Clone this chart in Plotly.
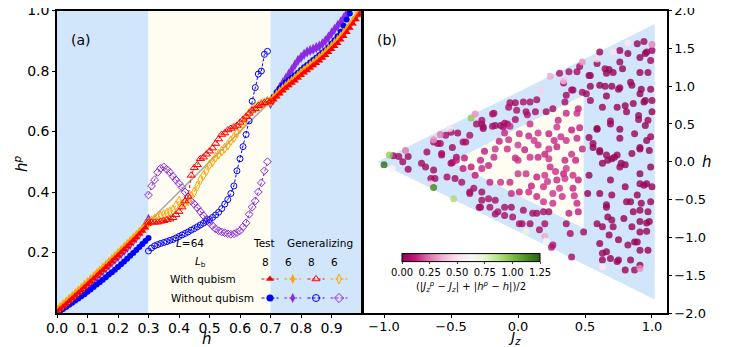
import plotly.graph_objects as go

# ---------------- data: panel (a) ----------------
H_LO = [0.00, 0.01, 0.02, 0.03, 0.04, 0.05, 0.06, 0.07, 0.08, 0.09, 0.10, 0.11, 0.12, 0.13, 0.14, 0.15,
        0.16, 0.17, 0.18, 0.19, 0.20, 0.21, 0.22, 0.23, 0.24, 0.25, 0.26, 0.27, 0.28, 0.29, 0.30]
H_HI = [0.70, 0.71, 0.72, 0.73, 0.74, 0.75, 0.76, 0.77, 0.78, 0.79, 0.80, 0.81, 0.82, 0.83, 0.84, 0.85,
        0.86, 0.87, 0.88, 0.89, 0.90, 0.91, 0.92, 0.93, 0.94, 0.95, 0.96, 0.97, 0.98, 0.99, 1.00]
H_MID = [0.30, 0.31, 0.32, 0.33, 0.34, 0.35, 0.36, 0.37, 0.38, 0.39, 0.40, 0.41, 0.42, 0.43, 0.44, 0.45,
         0.46, 0.47, 0.48, 0.49, 0.50, 0.51, 0.52, 0.53, 0.54, 0.55, 0.56, 0.57, 0.58, 0.59, 0.60, 0.61,
         0.62, 0.63, 0.64, 0.65, 0.66, 0.67, 0.68, 0.69, 0.70]

# Test, L_b = 8, with qubism (red filled triangles)
red_lo = [0.004, 0.012, 0.021, 0.030, 0.039, 0.048, 0.057, 0.066, 0.075, 0.085, 0.094, 0.103, 0.113, 0.122,
          0.132, 0.141, 0.151, 0.160, 0.170, 0.180, 0.190, 0.200, 0.210, 0.220, 0.230, 0.240, 0.250, 0.261,
          0.271, 0.282, 0.293]
red_hi = [0.695, 0.705, 0.715, 0.725, 0.735, 0.744, 0.752, 0.760, 0.768, 0.777, 0.786, 0.794, 0.802, 0.810,
          0.818, 0.826, 0.834, 0.843, 0.852, 0.862, 0.872, 0.882, 0.892, 0.903, 0.915, 0.928, 0.942, 0.956,
          0.970, 0.985, 0.998]
# Test, L_b = 6, with qubism (orange filled diamonds)
orange_lo = [0.010, 0.019, 0.028, 0.037, 0.046, 0.055, 0.064, 0.073, 0.082, 0.092, 0.101, 0.111, 0.120, 0.130,
             0.139, 0.149, 0.158, 0.168, 0.177, 0.187, 0.197, 0.207, 0.217, 0.227, 0.237, 0.247, 0.257, 0.267,
             0.277, 0.288, 0.298]
orange_hi = [0.700, 0.711, 0.721, 0.731, 0.741, 0.750, 0.759, 0.767, 0.776, 0.785, 0.794, 0.802, 0.810, 0.818,
             0.826, 0.834, 0.843, 0.852, 0.861, 0.871, 0.881, 0.891, 0.902, 0.913, 0.925, 0.938, 0.951, 0.965,
             0.979, 0.993, 1.005]
# Test, L_b = 8, without qubism (blue filled circles)
blue_lo = [0.000, 0.006, 0.013, 0.020, 0.027, 0.034, 0.041, 0.048, 0.055, 0.062, 0.070, 0.078, 0.086, 0.094,
           0.102, 0.110, 0.118, 0.127, 0.135, 0.143, 0.152, 0.161, 0.170, 0.179, 0.189, 0.198, 0.208, 0.218,
           0.228, 0.238, 0.248]
blue_hi = [0.700, 0.715, 0.730, 0.742, 0.752, 0.762, 0.770, 0.778, 0.786, 0.794, 0.803, 0.812, 0.820, 0.828,
           0.836, 0.844, 0.852, 0.860, 0.868, 0.878, 0.890, 0.902, 0.915, 0.930, 0.950, 0.970, 0.990, 1.010,
           1.030, 1.050, 1.070]
# Test, L_b = 6, without qubism (purple filled diamonds)
purple_lo = [0.006, 0.014, 0.022, 0.030, 0.039, 0.047, 0.056, 0.065, 0.074, 0.083, 0.092, 0.101, 0.111, 0.120,
             0.130, 0.140, 0.149, 0.158, 0.168, 0.177, 0.186, 0.196, 0.206, 0.216, 0.227, 0.238, 0.250, 0.262,
             0.276, 0.292, 0.310]
purple_hi = [0.692, 0.710, 0.728, 0.745, 0.760, 0.775, 0.790, 0.805, 0.820, 0.835, 0.845, 0.855, 0.863, 0.868,
             0.872, 0.877, 0.882, 0.890, 0.900, 0.912, 0.925, 0.938, 0.950, 0.962, 0.975, 0.990, 1.002, 1.015,
             1.030, 1.045, 1.060]

# Generalizing (middle region)
red_mid = [0.300, 0.300, 0.300, 0.300, 0.303, 0.305, 0.308, 0.310, 0.315, 0.325, 0.335, 0.350, 0.370, 0.385,
           0.455, 0.480, 0.490, 0.510, 0.515, 0.525, 0.535, 0.545, 0.560, 0.575, 0.590, 0.595, 0.605, 0.610,
           0.615, 0.620, 0.630, 0.640, 0.650, 0.660, 0.670, 0.675, 0.685, 0.690, 0.695, 0.700, 0.700]
orange_mid = [0.300, 0.305, 0.310, 0.315, 0.320, 0.325, 0.330, 0.335, 0.340, 0.355, 0.370, 0.360, 0.365, 0.370,
              0.385, 0.400, 0.420, 0.440, 0.455, 0.470, 0.490, 0.500, 0.515, 0.525, 0.535, 0.545, 0.555, 0.570,
              0.580, 0.595, 0.610, 0.625, 0.645, 0.660, 0.670, 0.680, 0.685, 0.690, 0.695, 0.700, 0.700]
blue_mid = [0.205, 0.215, 0.222, 0.226, 0.230, 0.233, 0.236, 0.240, 0.243, 0.248, 0.253, 0.258, 0.263, 0.268,
            0.274, 0.279, 0.285, 0.291, 0.297, 0.303, 0.309, 0.316, 0.324, 0.333, 0.345, 0.360, 0.375, 0.395,
            0.420, 0.470, 0.510, 0.550, 0.590, 0.635, 0.700, 0.745, 0.790, 0.800, 0.855, 0.865, None]
purple_mid = [0.390, 0.420, 0.440, 0.465, 0.478, 0.483, 0.475, 0.465, 0.452, 0.440, 0.428, 0.415, 0.400, 0.385,
              0.370, 0.360, 0.348, 0.335, 0.322, 0.310, 0.298, 0.288, 0.278, 0.272, 0.268, 0.265, 0.262, 0.260,
              0.262, 0.266, 0.272, 0.285, 0.298, 0.326, 0.350, 0.370, 0.400, 0.430, 0.470, 0.500, None]

DIAG = [0.0, 1.0]
REGIONS_A = [0.0, 0.3, 0.7, 1.0]

# ---------------- data: panel (b)  (J_z, h, error) ----------------
pts_inner = [
    (0.01, 0.37, 0.15), (0.08, 0.34, 0.14), (0.15, 0.38, 0.16), (0.23, 0.37, 0.13), (-0.06, 0.47, 0.14),
    (-0.07, 0.29, 0.15), (-0.14, 0.27, 0.13), (-0.17, 0.17, 0.16), (-0.25, 0.14, 0.12), (-0.18, 0.06, 0.14),
    (-0.08, 0.17, 0.15), (0.00, 0.22, 0.17), (0.05, 0.16, 0.13), (0.09, 0.06, 0.15), (0.15, 0.06, 0.14),
    (0.23, 0.04, 0.16), (0.29, 0.20, 0.13), (0.36, 0.28, 0.15), (0.44, 0.31, 0.14), (0.40, 0.42, 0.12),
    (0.45, 0.70, 0.13), (0.44, 0.64, 0.15), (0.36, 0.64, 0.14), (0.29, 0.46, 0.16), (-0.28, 0.02, 0.13),
    (-0.35, -0.07, 0.11), (-0.27, -0.09, 0.14), (-0.32, -0.18, 0.12), (-0.41, -0.09, 0.11), (-0.46, 0.02, 0.12),
    (-0.21, -0.27, 0.13), (-0.13, -0.27, 0.15), (-0.06, -0.27, 0.14), (0.00, -0.16, 0.16), (0.06, -0.16, 0.15),
    (0.14, -0.20, 0.13), (0.20, -0.18, 0.16), (0.24, -0.07, 0.14), (0.28, -0.13, 0.15), (0.34, -0.16, 0.13),
    (0.35, -0.22, 0.16), (0.29, -0.24, 0.14), (0.41, -0.18, 0.15), (0.45, -0.24, 0.13), (0.41, -0.35, 0.14),
    (0.31, -0.35, 0.16), (0.19, -0.33, 0.15), (0.10, -0.32, 0.13), (0.08, -0.40, 0.15), (0.14, -0.46, 0.14),
    (0.26, -0.42, 0.16), (0.33, -0.46, 0.15), (0.38, -0.68, 0.13), (0.45, -0.66, 0.12), (0.44, -0.55, 0.14),
    (0.26, -0.55, 0.15), (0.19, -0.53, 0.16), (0.01, -0.40, 0.13), (-0.05, -0.42, 0.14), (0.15, 0.22, 0.15),
    (0.23, 0.17, 0.16), (0.35, 0.02, 0.14), (0.43, 0.02, 0.13), (0.48, 0.17, 0.14), (0.09, 0.50, 0.15),
    (0.36, -0.09, 0.16), (0.30, 0.55, 0.14), (0.40, 0.10, 0.15), (0.46, 0.45, 0.13), (0.12, 0.28, 0.16),
    (-0.02, 0.05, 0.14), (0.20, 0.10, 0.13), (0.32, 0.33, 0.15), (-0.10, 0.38, 0.14), (-0.40, 0.05, 0.12),
    (0.00, 0.02, 0.15), (0.27, 0.28, 0.14), (0.42, -0.45, 0.15), (0.22, -0.26, 0.16), (-0.22, -0.05, 0.13),
]
pts_band = [
    (-0.06, 0.78, 0.06), (-0.02, 0.78, 0.05), (0.04, 0.79, 0.07), (0.14, 0.82, 0.06), (0.06, 0.66, 0.05),
    (0.07, 0.62, 0.07), (0.13, 0.66, 0.06), (0.21, 0.66, 0.05), (0.26, 0.70, 0.06), (-0.01, 0.68, 0.07),
    (-0.10, 0.51, 0.06), (-0.13, 0.48, 0.05), (-0.17, 0.48, 0.06), (-0.18, 0.64, 0.07), (-0.26, 0.44, 0.06),
    (-0.27, 0.50, 0.05), (-0.31, 0.50, 0.06), (-0.36, 0.35, 0.07), (-0.45, 0.38, 0.05), (-0.41, 0.26, 0.06),
    (-0.50, 0.39, 0.06), (-0.54, 0.35, 0.07), (-0.49, 0.19, 0.05), (-0.02, 0.56, 0.06), (-0.07, 0.72, 0.07),
    (0.36, 0.88, 0.05), (0.35, 0.79, 0.06), (0.41, 0.95, 0.05), (0.48, 0.92, 0.06), (0.34, 1.04, 0.07),
    (0.46, 1.26, 0.05), (0.44, 1.19, 0.06), (0.38, 1.19, 0.07), (0.54, 1.14, 0.04), (0.51, 0.90, 0.05),
    (0.54, 0.81, 0.04), (0.31, 1.17, 0.07), (0.40, 0.95, 0.06), (0.09, 0.79, 0.06), (-0.19, 0.63, 0.07),
    (-0.27, 0.55, 0.06), (-0.26, 0.46, 0.05), (-0.19, 0.47, 0.06), (-0.11, 0.46, 0.07), (-0.08, 0.50, 0.06),
    (-0.58, 0.24, 0.06), (-0.63, 0.26, 0.07), (-0.39, 0.26, 0.06), (-0.46, 0.06, 0.06), (-0.50, -0.02, 0.05),
    (-0.57, 0.09, 0.06), (-0.68, 0.13, 0.05), (-0.72, -0.02, 0.05), (-0.82, 0.07, 0.04), (-0.89, 0.07, 0.05),
    (-0.93, 0.08, 0.04), (-0.86, 0.00, 0.05), (-0.82, -0.10, 0.04), (-0.69, -0.07, 0.05), (-0.60, 0.24, 0.06),
    (-0.57, 0.11, 0.06), (-0.49, -0.01, 0.06), (-0.63, -0.11, 0.05), (-0.62, -0.22, 0.05), (-0.53, -0.20, 0.06),
    (-0.47, -0.22, 0.05), (-0.42, -0.27, 0.06), (-0.36, -0.40, 0.07), (-0.33, -0.35, 0.06), (-0.27, -0.40, 0.05),
    (-0.27, -0.51, 0.06), (-0.22, -0.49, 0.07), (-0.17, -0.51, 0.06), (-0.28, -0.60, 0.05), (-0.21, -0.60, 0.06),
    (-0.15, -0.66, 0.07), (-0.10, -0.60, 0.06), (-0.05, -0.60, 0.05), (-0.10, -0.71, 0.06), (-0.04, -0.73, 0.07),
    (0.03, -0.82, 0.06), (0.09, -0.82, 0.05), (0.14, -0.68, 0.06), (0.19, -0.66, 0.07), (0.20, -0.82, 0.06),
    (0.26, -1.10, 0.08), (0.16, -0.90, 0.06), (0.36, -0.82, 0.05), (0.49, -0.93, 0.05), (0.40, -1.26, 0.06),
    (-0.65, -0.22, 0.05), (-0.36, -0.42, 0.06), (-0.29, -0.60, 0.05), (0.04, -0.64, 0.06), (0.11, -0.68, 0.06),
    (0.23, -0.66, 0.05), (-0.17, -0.69, 0.06), (0.01, -0.82, 0.07), (0.25, -1.13, 0.09), (0.39, -0.95, 0.06),
]
pts_outer = [
    (0.61, 1.45, 0.03), (0.76, 1.47, 0.03), (0.82, 1.43, 0.02), (0.89, 1.56, 0.03), (0.94, 1.59, 0.04),
    (0.96, 1.45, 0.03), (1.00, 1.47, 0.04), (0.59, 1.30, 0.03), (0.68, 1.22, 0.02), (0.76, 1.32, 0.03),
    (0.78, 1.23, 0.02), (0.84, 1.05, 0.03), (0.91, 1.18, 0.02), (0.97, 1.18, 0.03), (0.99, 1.34, 0.04),
    (0.91, 1.38, 0.03), (0.95, 1.43, 0.02), (0.53, 1.14, 0.03), (0.54, 1.00, 0.02), (0.65, 1.00, 0.03),
    (0.70, 1.00, 0.02), (0.76, 0.98, 0.03), (0.91, 0.90, 0.02), (1.00, 0.81, 0.03), (0.94, 0.79, 0.02),
    (0.63, 0.72, 0.03), (0.80, 0.74, 0.02), (0.81, 0.66, 0.03), (0.90, 0.61, 0.02), (0.97, 0.55, 0.03),
    (1.00, 0.66, 0.02), (0.69, 0.50, 0.03), (0.59, 0.44, 0.02), (0.56, 0.24, 0.03), (0.61, 0.15, 0.02),
    (0.66, 0.09, 0.03), (0.70, 0.04, 0.02), (0.74, 0.09, 0.03), (0.76, -0.07, 0.02), (0.77, -0.02, 0.03),
    (0.76, 0.31, 0.02), (0.85, 0.11, 0.03), (0.91, 0.17, 0.02), (0.96, 0.28, 0.03), (0.91, -0.16, 0.02),
    (0.91, -0.29, 0.03), (0.96, -0.29, 0.02), (1.00, -0.33, 0.03), (0.99, -0.07, 0.02), (0.69, -0.24, 0.03),
    (0.52, -0.42, 0.02), (0.53, -0.18, 0.03), (0.63, -0.02, 0.02), (0.66, -0.57, 0.03), (0.84, -0.53, 0.02),
    (0.86, -0.66, 0.03), (0.91, -0.64, 0.02), (0.97, -0.66, 0.03), (0.96, -0.81, 0.02), (0.96, -0.92, 0.03),
    (0.91, -0.79, 0.02), (0.85, -0.86, 0.03), (0.79, -0.75, 0.02), (0.70, -0.77, 0.03), (0.63, -0.86, 0.02),
    (0.68, -0.97, 0.03), (0.75, -1.03, 0.02), (0.82, -1.10, 0.03), (0.87, -1.06, 0.02), (0.91, -1.17, 0.03),
    (0.97, -1.17, 0.02), (0.84, -1.30, 0.03), (0.91, -1.37, 0.02), (0.75, -1.30, 0.03), (0.63, -1.21, 0.04),
    (0.63, -1.30, 0.03), (0.69, -1.28, 0.02), (0.65, 1.23, 0.03), (0.66, 1.17, 0.02), (0.71, 1.18, 0.03),
    (0.61, 1.01, 0.02), (0.75, 0.96, 0.03), (0.66, 0.87, 0.02), (0.85, 1.01, 0.03), (0.92, 0.96, 0.02),
    (0.99, 0.96, 0.03), (0.95, 0.81, 0.02), (0.86, 0.77, 0.03), (0.74, 0.72, 0.02), (0.90, 0.56, 0.03),
    (0.95, 0.48, 0.02), (0.87, 0.37, 0.03), (0.76, 0.43, 0.02), (0.69, 0.54, 0.03), (0.59, 0.43, 0.02),
    (0.53, 0.32, 0.03), (0.56, 0.19, 0.02), (0.61, 0.13, 0.03), (0.67, 0.02, 0.02), (0.72, 0.06, 0.03),
    (0.80, -0.04, 0.02), (0.91, 0.19, 0.03), (0.98, 0.15, 0.02), (0.99, 0.33, 0.03), (0.66, -1.19, 0.02),
    (0.74, -1.32, 0.03), (0.87, -1.43, 0.04), (0.80, -1.43, 0.03), (0.61, -1.08, 0.02), (0.71, -0.86, 0.03),
    (0.67, -0.73, 0.02), (0.59, -0.82, 0.03), (0.89, -1.06, 0.02), (0.91, -0.93, 0.03), (0.98, -0.79, 0.02),
    (0.81, -0.53, 0.03), (0.92, -0.55, 0.02), (0.99, -0.53, 0.03), (0.66, -0.60, 0.02), (0.70, -0.44, 0.03),
    (0.61, -0.42, 0.02), (0.89, -0.44, 0.03), (0.80, -0.33, 0.02), (0.94, -0.31, 0.03),
]
pts_light = [
    (0.71, 1.45, 0.50), (1.00, 1.55, 0.28), (0.82, 1.57, 0.55), (0.48, 1.32, 0.30), (0.59, 1.36, 0.48),
    (0.34, 1.07, 0.40), (0.24, 1.13, 0.35), (0.17, 0.95, 0.45), (-0.35, 0.58, 0.95), (-0.32, 0.63, 0.30),
    (-0.51, 0.44, 0.50), (-0.58, 0.36, 0.25), (-0.63, 0.29, 0.30), (-0.84, 0.15, 0.25), (-0.96, 0.09, 0.95),
    (-1.00, -0.04, 1.22), (-0.94, -0.09, 0.62), (-0.65, -0.29, 0.45), (-0.63, -0.34, 1.15), (-0.48, -0.49, 0.90),
    (0.06, -0.93, 0.72), (0.20, -0.99, 0.35), (0.21, -1.05, 0.62), (0.63, -1.39, 0.55), (0.91, -1.41, 0.30),
]

BLUE_POLY = [(-1.05, 0.0), (1.02, 1.82), (1.02, -1.82)]
CREAM_POLY = [(-0.495, 0.0), (0.49, 0.88), (0.49, -0.88)]

CB_TICKS = [0.0, 0.25, 0.5, 0.75, 1.0, 1.25]
CB_TEXT = ["0.00", "0.25", "0.50", "0.75", "1.00", "1.25"]

# ---------------- styling ----------------
W, H = 729, 347
OFF = 8  # page body margin of the browser
FONT = "DejaVu Sans"
BLUE_BG = "#d1e5fb"
CREAM_BG = "#fffdf2"
C_RED, C_ORANGE, C_BLUE, C_PURPLE = "#ff0000", "#ffa500", "#0000ff", "#8a2be2"


def fx(px):
    return (px - OFF) / W


def fy(py):
    return 1 - (py - OFF) / H


fig = go.Figure()

# diagonal reference line
fig.add_trace(go.Scatter(x=DIAG, y=DIAG, mode="lines", line=dict(color="#a8a8a8", width=1.5),
                         xaxis="x", yaxis="y", showlegend=False, hoverinfo="skip"))


def series(xs, ys, color, symbol, size, open_marker=False, dash="3px,2px"):
    if open_marker:
        marker = dict(symbol=symbol, size=size, color=color, line=dict(color=color, width=1))
    else:
        marker = dict(symbol=symbol, size=size, color=color, line=dict(width=0))
    return go.Scatter(x=xs, y=ys, mode="lines+markers", marker=marker,
                      line=dict(color=color, width=1, dash=dash),
                      xaxis="x", yaxis="y", showlegend=False, connectgaps=False)


def joined(a, b):
    return list(a) + [None] + list(b)


hx_test = joined(H_LO, H_HI)
fig.add_trace(series(hx_test, joined(purple_lo, purple_hi), C_PURPLE, "diamond-tall", 8))
fig.add_trace(series(hx_test, joined(blue_lo, blue_hi), C_BLUE, "circle", 6))
fig.add_trace(series(hx_test, joined(orange_lo, orange_hi), C_ORANGE, "diamond-tall", 8))
fig.add_trace(series(hx_test, joined(red_lo, red_hi), C_RED, "triangle-up", 7))

fig.add_trace(series(H_MID, purple_mid, C_PURPLE, "diamond-open", 6, True))
fig.add_trace(series(H_MID, blue_mid, C_BLUE, "circle-open", 6, True))
fig.add_trace(series(H_MID, orange_mid, C_ORANGE, "diamond-tall-open", 7, True))
fig.add_trace(series(H_MID, red_mid, C_RED, "triangle-up-open", 7, True))

# panel (b) scatter
all_pts = pts_band + pts_inner + pts_outer + pts_light
fig.add_trace(go.Scatter(
    x=[p[0] for p in all_pts], y=[p[1] for p in all_pts], mode="markers",
    xaxis="x2", yaxis="y2", showlegend=False,
    marker=dict(size=7, color=[p[2] for p in all_pts], colorscale="PiYG", cmin=0, cmax=1.25,
                opacity=0.82, line=dict(width=0),
                colorbar=dict(orientation="h", x=fx(471), xanchor="center", y=fy(274), yanchor="middle",
                              len=158, lenmode="pixels", thickness=8, thicknessmode="pixels",
                              outlinecolor="black", outlinewidth=1,
                              tickvals=CB_TICKS, ticktext=CB_TEXT, ticks="outside", ticklen=2,
                              tickfont=dict(family=FONT, size=10, color="black"),
                              title=dict(text="(|<i>J</i><sub><i>z</i></sub><sup><i>p</i></sup> − <i>J</i><sub><i>z</i></sub>| + |<i>h</i><sup><i>p</i></sup> − <i>h</i>|)/2",
                                         side="bottom", font=dict(family=FONT, size=10, color="black"))))))

# ---------------- custom legend table (pixel overlay axes) ----------------
LEG_COLS = [270, 292.7, 316, 339]
LEG_ROWS = [279, 298]
leg_styles = [
    [(C_RED, "triangle-up", False), (C_ORANGE, "diamond-tall", False), (C_RED, "triangle-up-open", True), (C_ORANGE, "diamond-tall-open", True)],
    [(C_BLUE, "circle", False), (C_PURPLE, "diamond-tall", False), (C_BLUE, "circle-open", True), (C_PURPLE, "diamond-open", True)],
]
for r, row in enumerate(leg_styles):
    for c, (col, sym, op) in enumerate(row):
        cx, cy = LEG_COLS[c], LEG_ROWS[r]
        fig.add_trace(go.Scatter(x=[cx - 8.5, cx + 8.5], y=[cy, cy], mode="lines",
                                 line=dict(color=col, width=1, dash="3px,2px"),
                                 xaxis="x3", yaxis="y3", showlegend=False, hoverinfo="skip"))
        mk = dict(symbol=sym, size=7, color=col, line=dict(color=col, width=1 if op else 0))
        fig.add_trace(go.Scatter(x=[cx], y=[cy], mode="markers", marker=mk,
                                 xaxis="x3", yaxis="y3", showlegend=False, hoverinfo="skip"))

# ---------------- shapes ----------------
shapes = []
for i, (a, b) in enumerate(zip(REGIONS_A[:-1], REGIONS_A[1:])):
    shapes.append(dict(type="rect", xref="x", yref="y", x0=a, x1=b, y0=0, y1=1,
                       fillcolor=CREAM_BG if i == 1 else BLUE_BG, line=dict(width=0), layer="below"))


def poly_path(pts):
    return "M " + " L ".join(f"{x},{y}" for x, y in pts) + " Z"


shapes.append(dict(type="path", xref="x2", yref="y2", path=poly_path(BLUE_POLY),
                   fillcolor=BLUE_BG, line=dict(width=0), layer="below"))
shapes.append(dict(type="path", xref="x2", yref="y2", path=poly_path(CREAM_POLY),
                   fillcolor=CREAM_BG, line=dict(width=0), layer="below"))

# ---------------- annotations ----------------
def ann(text, px, py, size=12, angle=0, xanchor="center"):
    return dict(text=text, x=fx(px), y=fy(py), xref="paper", yref="paper", showarrow=False,
                xanchor=xanchor, yanchor="middle", textangle=angle,
                font=dict(family=FONT, size=size, color="black"))


annotations = [
    ann("(a)", 81, 40, 14), ann("(b)", 387, 40, 14),
    ann("<i>h</i><sup><i>p</i></sup>", 21, 164, 15, -90),
    ann("<i>h</i>", 207, 339, 15), ann("<i>J</i><sub><i>z</i></sub>", 514, 338, 14),
    ann("<i>h</i>", 707, 162, 15),
    ann("<i>L</i>=64", 190, 243, 10.5), ann("Test", 264, 243, 10.5), ann("Generalizing", 320, 243, 10.5),
    ann("<i>L</i><sub>b</sub>", 200, 262, 10.5),
    ann("8", 265, 262, 10.5), ann("6", 288, 262, 10.5), ann("8", 311, 262, 10.5), ann("6", 334, 262, 10.5),
    ann("With qubism", 203, 279, 10.5), ann("Without qubism", 212, 298, 10.5),
]

common = dict(showgrid=False, zeroline=False, showline=True, mirror=True, linecolor="black", linewidth=1.5,
              ticks="outside", ticklen=3, tickwidth=1, tickcolor="black", automargin=False,
              ticklabeloverflow="allow")
ydom = [fy(313), fy(10.5)]

fig.update_layout(
    width=W, height=H, margin=dict(l=0, r=0, t=0, b=0, autoexpand=False),
    paper_bgcolor="white", plot_bgcolor="rgba(0,0,0,0)",
    font=dict(family=FONT, color="black"),
    showlegend=False,
    xaxis=dict(domain=[fx(57), fx(362)], range=[0, 1], anchor="y",
               tickvals=[0, 0.1, 0.2, 0.3, 0.4, 0.5, 0.6, 0.7, 0.8, 0.9],
               ticktext=["0.0", "0.1", "0.2", "0.3", "0.4", "0.5", "0.6", "0.7", "0.8", "0.9"],
               tickfont=dict(size=14), ticklabelstandoff=-2, **common),
    yaxis=dict(domain=ydom, range=[0, 1], anchor="x",
               tickvals=[0.2, 0.4, 0.6, 0.8, 1.0], ticktext=["0.2", "0.4", "0.6", "0.8", "1.0"],
               tickfont=dict(size=14), **common),
    xaxis2=dict(domain=[fx(363), fx(667)], range=[-1.157, 1.112], anchor="y2",
                tickvals=[-1, -0.5, 0, 0.5, 1], ticktext=["−1.0", "−0.5", "0.0", "0.5", "1.0"],
                tickfont=dict(size=13), ticklabelstandoff=-2, **common),
    yaxis2=dict(domain=ydom, range=[-2, 2], anchor="x2", side="right",
                tickvals=[-2, -1.5, -1, -0.5, 0, 0.5, 1, 1.5, 2],
                ticktext=["−2.0", "−1.5", "−1.0", "−0.5", "0.0", "0.5", "1.0", "1.5", "2.0"],
                tickfont=dict(size=13), **common),
    xaxis3=dict(domain=[0, 1], range=[OFF, W + OFF], anchor="y3", visible=False, fixedrange=True,
                automargin=False),
    yaxis3=dict(domain=[0, 1], range=[H + OFF, OFF], anchor="x3", visible=False, fixedrange=True,
                automargin=False),
    shapes=shapes, annotations=annotations,
)

fig.write_html("out.html")
